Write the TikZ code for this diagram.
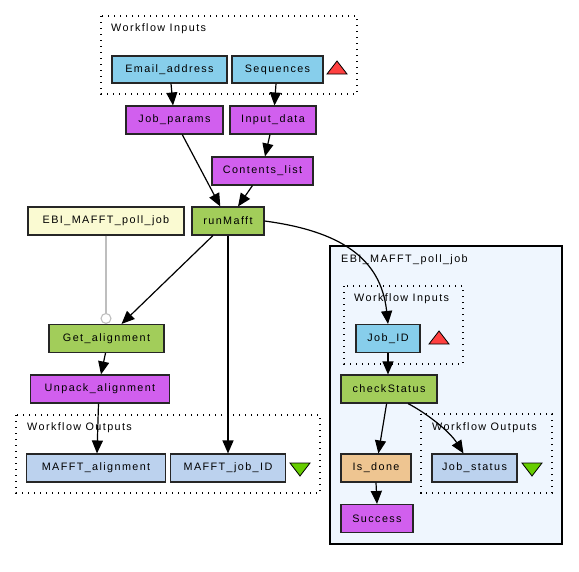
\documentclass[tikz,border=0pt]{standalone}
\usepackage{fontspec}
\setmainfont{Liberation Sans}[LetterSpace=13]
\usetikzlibrary{arrows.meta}
\definecolor{inport}{HTML}{87CEEB}
\definecolor{outport}{HTML}{BCD2EE}
\definecolor{bean}{HTML}{D15FEE}
\definecolor{wsdl}{HTML}{A2CD5A}
\definecolor{nested}{HTML}{FAFAD2}
\definecolor{const}{HTML}{EEC591}
\definecolor{contbg}{HTML}{EFF6FE}
\definecolor{redtri}{HTML}{FF4040}
\definecolor{greentri}{HTML}{66CD00}
\definecolor{grayline}{HTML}{BEBEBE}
\tikzset{
  box/.style={draw=black!85, line width=1.1pt, inner sep=0pt, font=\fontsize{10.8}{12}\selectfont},
  inbox/.style={box, fill=inport},
  outbox/.style={box, fill=outport},
  beanbox/.style={box, fill=bean},
  wsdlbox/.style={box, fill=wsdl},
  nestbox/.style={box, fill=nested},
  constbox/.style={box, fill=const},
  dotbox/.style={draw=black, line width=1.6pt, dash pattern=on 1.4pt off 4.6pt},
  lbl/.style={anchor=west, inner sep=0pt, font=\fontsize{10.8}{12}\selectfont},
  edge/.style={draw=black, line width=1.2pt, -{Triangle[length=13pt,width=11pt]}},
  uptri/.style={fill=redtri, draw=black, line width=0.8pt},
  downtri/.style={fill=greentri, draw=black, line width=0.8pt},
}
\begin{document}
\begin{tikzpicture}[x=1pt,y=-1pt]
\useasboundingbox (0,0) rectangle (579,571);
% container
\draw[fill=contbg, draw=black, line width=1.1pt] (330,246) rectangle (562,544);
\node[lbl] (contlbl) at (341,260) {EBI\_MAFFT\_poll\_job};
% dotted groups
\draw[dotbox] (101,16) rectangle (357,94);
\node[lbl] (inlbl) at (111,29) {Workflow Inputs};
\draw[dotbox] (16,415) rectangle (320,493);
\node[lbl] (outlbl) at (27,428) {Workflow Outputs};
\draw[dotbox] (344,286) rectangle (463,364);
\node[lbl] (inlbl2) at (354,299) {Workflow Inputs};
\draw[dotbox] (421,414) rectangle (552,493);
\node[lbl] (outlbl2) at (432,428) {Workflow Outputs};
% triangles
\draw[uptri] (327,74) -- (337,61) -- (347,74) -- cycle;
\draw[uptri] (429,344) -- (439,331) -- (449,344) -- cycle;
\draw[downtri] (290,463) -- (310,463) -- (300,476) -- cycle;
\draw[downtri] (522,463) -- (542,463) -- (532,476) -- cycle;
% nodes
\node[inbox, minimum width=115pt, minimum height=27pt] (email) at (169.5,69.5) {Email\_address};
\node[inbox, minimum width=91pt, minimum height=27pt] (seq) at (277.5,69.5) {Sequences};
\node[beanbox, minimum width=97pt, minimum height=28pt] (jobp) at (174.5,120) {Job\_params};
\node[beanbox, minimum width=86pt, minimum height=28pt] (inputd) at (273,120) {Input\_data};
\node[beanbox, minimum width=101pt, minimum height=28pt] (contents) at (262.5,171) {Contents\_list};
\node[wsdlbox, minimum width=72pt, minimum height=28pt] (runm) at (228,221) {runMafft};
\node[nestbox, minimum width=156pt, minimum height=28pt] (poll) at (106,221) {EBI\_MAFFT\_poll\_job};
\node[wsdlbox, minimum width=115pt, minimum height=28pt] (geta) at (106.5,338.5) {Get\_alignment};
\node[beanbox, minimum width=139pt, minimum height=28pt] (unpack) at (100,389) {Unpack\_alignment};
\node[outbox, minimum width=139pt, minimum height=28pt] (mafftal) at (96,468) {MAFFT\_alignment};
\node[outbox, minimum width=115pt, minimum height=28pt] (mafftid) at (228,468) {MAFFT\_job\_ID};
\node[inbox, minimum width=64pt, minimum height=28pt] (jobid) at (388,338.5) {Job\_ID};
\node[wsdlbox, minimum width=96pt, minimum height=28pt] (check) at (389,389) {checkStatus};
\node[constbox, minimum width=70pt, minimum height=28pt] (isdone) at (376,468) {Is\_done};
\node[beanbox, minimum width=72pt, minimum height=28pt] (success) at (377,518.5) {Success};
\node[outbox, minimum width=85pt, minimum height=28pt] (jobstat) at (474.5,468) {Job\_status};
% edges
\draw[edge] ([xshift=1.5pt]email.south) -- ([xshift=-1.5pt]jobp.north);
\draw[edge] ([xshift=-1.5pt]seq.south) -- ([xshift=1.5pt]inputd.north);
\draw[edge] (jobp) -- (runm);
\draw[edge] ([xshift=-3pt]inputd.south) -- ([xshift=2.5pt]contents.north);
\draw[edge] (contents) -- (runm);
\draw[edge] (runm) -- (geta);
\draw[edge] (runm.south) -- (mafftid.north);
\draw[draw=grayline, line width=1.1pt, -{Circle[open, length=11pt, width=11pt]}] (poll.south) -- (poll.south |- geta.north);
\draw[edge] ([xshift=-1pt]geta.south) -- ([xshift=1pt]unpack.north);
\draw[edge] ([xshift=-1.5pt]unpack.south) -- ([xshift=1pt]mafftal.north);
\draw[edge] (runm.east) .. controls (340,231) and (381,258) .. (jobid.north);
\draw[edge] (jobid.south) -- (jobid.south |- check.north);
\draw[edge] (check) -- (isdone);
\draw[edge] ([xshift=19pt]check.south) .. controls (428,414) and (450,432) .. ([xshift=-11pt]jobstat.north);
\draw[edge] (isdone.south) -- (success.north);
\end{tikzpicture}
\end{document}
